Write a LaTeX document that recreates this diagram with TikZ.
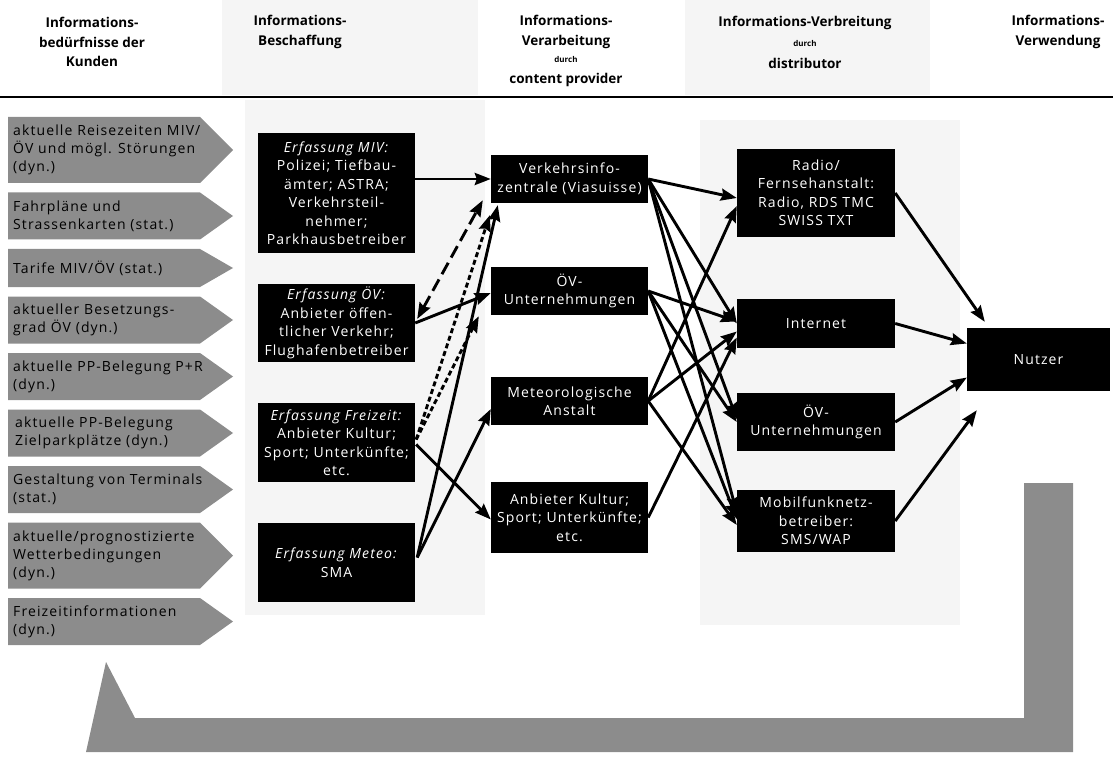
\documentclass[tikz,border=0pt]{standalone}
\usepackage{fontspec}
\setmainfont{Open Sans}
\newfontfamily\bodyfont{Open Sans}[LetterSpace=8]
\usetikzlibrary{arrows.meta,calc}

\begin{document}
\begin{tikzpicture}[x=1pt,y=-1pt,
  hatch/.style={fill=black!45,draw=none},
  stipple/.style={fill=black!4,draw=none},
  need/.style={anchor=west,align=left,inner sep=0pt,font=\bodyfont\fontsize{14}{18}\selectfont},
  blk/.style={fill=black,text=white,align=center,inner sep=0pt,font=\bodyfont\fontsize{14}{18.5}\selectfont},
  colA/.style={blk,minimum width=157pt},
  colB/.style={blk,minimum width=157pt},
  colC/.style={blk,minimum width=158pt},
  head/.style={align=center,inner sep=0pt,font=\bfseries\fontsize{13.5}{19.5}\selectfont},
  tiny/.style={inner sep=0pt,font=\bfseries\fontsize{8}{10}\selectfont},
  tip/.style={-{Stealth[length=16pt,width=12pt,inset=2pt]}},
  flow/.style={line width=2.9pt,tip},
  longdash/.style={line width=2.9pt,dash pattern=on 13pt off 6pt,
    {Stealth[length=16pt,width=12pt,inset=2pt]}-{Stealth[length=16pt,width=12pt,inset=2pt]}},
  shortdash/.style={line width=2.9pt,dash pattern=on 5pt off 3pt,tip},
]
\useasboundingbox (0,0) rectangle (1113,759);

% faint screened shading behind the second and fourth columns
\fill[stipple] (222,0) rectangle (478,95);
\fill[stipple] (245,100) rectangle (485,615);
\fill[stipple] (685,0) rectangle (930,95);
\fill[stipple] (700,120) rectangle (960,625);

% column headings
\node[head] (h1) at (92,42) {Informations-\\bedürfnisse der\\Kunden};
\node[head] (h2) at (300,32) {Informations-\\Beschaffung};
\node[head] (h3) at (566,32) {Informations-\\Verarbeitung};
\node[tiny] (h3d) at (566,60) {durch};
\node[head] (h3c) at (566,80) {content provider};
\node[head] (h4) at (805,23) {Informations-Verbreitung};
\node[tiny] (h4d) at (805,44) {durch};
\node[head] (h4c) at (805,63) {distributor};
\node[head] (h5) at (1058,32) {Informations-\\Verwendung};

\draw[line width=2pt] (0,97) -- (1113,97);

% customer needs (hatched arrow tags)
\fill[hatch] (8,117) -- (200,117) -- (233,150) -- (200,183) -- (8,183) -- cycle;
\node[need] (n1) at (13,150) {aktuelle Reisezeiten MIV/\\ÖV und mögl. Störungen\\(dyn.)};
\fill[hatch] (8,192.5) -- (200,192.5) -- (233,216) -- (200,239.5) -- (8,239.5) -- cycle;
\node[need] (n2) at (13,216) {Fahrpläne und\\Strassenkarten (stat.)};
\fill[hatch] (8,249) -- (200,249) -- (233,268) -- (200,287) -- (8,287) -- cycle;
\node[need] (n3) at (13,268) {Tarife MIV/ÖV (stat.)};
\fill[hatch] (8,296.5) -- (200,296.5) -- (233,320) -- (200,343.5) -- (8,343.5) -- cycle;
\node[need] (n4) at (13,320) {aktueller Besetzungs-\\grad ÖV (dyn.)};
\fill[hatch] (8,353) -- (200,353) -- (233,376.5) -- (200,400) -- (8,400) -- cycle;
\node[need] (n5) at (13,376.5) {aktuelle PP-Belegung P+R\\(dyn.)};
\fill[hatch] (8,409.5) -- (200,409.5) -- (233,433) -- (200,456.5) -- (8,456.5) -- cycle;
\node[need] (n6) at (15,433) {aktuelle PP-Belegung\\Zielparkplätze (dyn.)};
\fill[hatch] (8,466) -- (200,466) -- (233,489.5) -- (200,513) -- (8,513) -- cycle;
\node[need] (n7) at (13,489.5) {Gestaltung von Terminals\\(stat.)};
\fill[hatch] (8,522.5) -- (200,522.5) -- (233,555.5) -- (200,588.5) -- (8,588.5) -- cycle;
\node[need] (n8) at (13,555.5) {aktuelle/prognostizierte\\Wetterbedingungen\\(dyn.)};
\fill[hatch] (8,598) -- (200,598) -- (233,621.5) -- (200,645) -- (8,645) -- cycle;
\node[need] (n9) at (13,621.5) {Freizeitinformationen\\(dyn.)};

% feedback arrow along the bottom
\fill[hatch] (86,752) -- (106,662) -- (135,718) -- (1024,718) -- (1024,483)
  -- (1073,483) -- (1073,752) -- cycle;

% information sources
\node[colA,minimum height=120pt] (miv) at (336.5,193)
  {\textit{Erfassung MIV:}\\Polizei; Tiefbau-\\ämter; ASTRA;\\Verkehrsteil-\\nehmer;\\Parkhausbetreiber};
\node[colA,minimum height=78pt] (erfov) at (336.5,323)
  {\textit{Erfassung ÖV:}\\Anbieter öffen-\\tlicher Verkehr;\\Flughafenbetreiber};
\node[colA,minimum height=79pt] (frei) at (336.5,442.5)
  {\textit{Erfassung Freizeit:}\\Anbieter Kultur;\\Sport; Unterkünfte;\\etc.};
\node[colA,minimum height=79pt] (meteo) at (336.5,562.5)
  {\textit{Erfassung Meteo:}\\SMA};

% content providers
\node[colB,minimum height=48pt] (viz) at (569.5,179) {Verkehrsinfo-\\zentrale (Viasuisse)};
\node[colB,minimum height=48pt] (ovu) at (569.5,291) {ÖV-\\Unternehmungen};
\node[colB,minimum height=48pt] (meta) at (569.5,401) {Meteorologische\\Anstalt};
\node[colB,minimum height=71pt] (anb) at (569.5,517.5) {Anbieter Kultur;\\Sport; Unterkünfte;\\etc.};

% distributors
\node[colC,minimum height=88pt] (radio) at (816,193) {Radio/\\Fernsehanstalt:\\Radio, RDS TMC\\SWISS TXT};
\node[colC,minimum height=49pt] (inet) at (816,323.5) {Internet};
\node[colC,minimum height=58pt] (ov4) at (816,422) {ÖV-\\Unternehmungen};
\node[colC,minimum height=62pt] (mob) at (816,521) {Mobilfunknetz-\\betreiber:\\SMS/WAP};

% user
\node[blk,minimum width=143pt,minimum height=63pt] (nutzer) at (1038.5,359.5) {Nutzer};

% sources -> content providers
\draw[flow] (miv.east |- viz.west) -- (viz.west);
\draw[flow] (erfov.east) -- ($(ovu.west)+(0,2)$);
\draw[longdash] ($(erfov.east)+(2,-4)$) -- ($(viz.south west)+(-8,-3)$);
\draw[shortdash] ($(frei.east)+(1,-3)$) -- ($(viz.south west)+(-1,12)$);
\draw[shortdash] ($(frei.east)+(1,-3)$) -- ($(ovu.south west)+(-12,1)$);
\draw[flow] ($(frei.east)+(1,2)$) -- ($(anb.west)+(0,2)$);
\draw[flow] ($(meteo.east)+(2,-5)$) -- ($(viz.south west)+(7,2)$);
\draw[flow] ($(meteo.east)+(2,-5)$) -- ($(meta.west)+(0,8)$);

% content providers -> distributors
\draw[flow] (viz.east) -- ($(radio.west)+(0,5)$);
\draw[flow] (viz.east) -- (inet.west);
\draw[flow] (viz.east) -- ($(ov4.west)+(0,-3)$);
\draw[flow] (viz.east) -- ($(mob.west)+(0,-8)$);
\draw[flow] (ovu.east) -- ($(inet.west)+(0,-2)$);
\draw[flow] (ovu.east) -- (ov4.west);
\draw[flow] (ovu.east) -- ($(mob.west)+(0,-2)$);
\draw[flow] (meta.east) -- ($(radio.west)+(0,13)$);
\draw[flow] (meta.east) -- ($(inet.west)+(0,8)$);
\draw[flow] (meta.east) -- ($(mob.west)+(0,4)$);
\draw[flow] (anb.east) -- ($(inet.west)+(0,14)$);

% distributors -> user
\draw[flow] (radio.east) -- ($(nutzer.north west)+(18,-6)$);
\draw[flow] (inet.east) -- ($(nutzer.west)+(0,-16)$);
\draw[flow] (ov4.east) -- ($(nutzer.west)+(0,18)$);
\draw[flow] (mob.east) -- ($(nutzer.south west)+(10,19)$);
\end{tikzpicture}
\end{document}
